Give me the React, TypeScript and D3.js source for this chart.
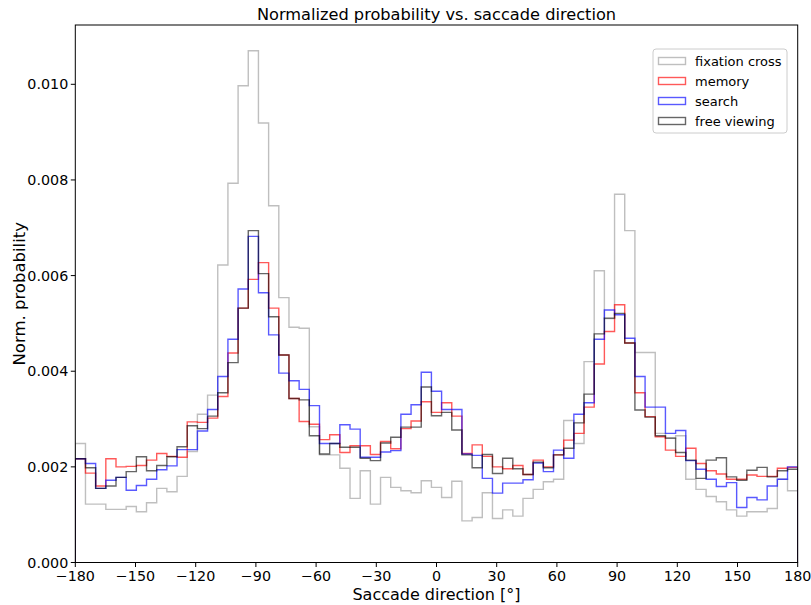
import React from "react";
import * as d3 from "d3";

// Histogram values (normalized probability), 71 bins from -180 to 180
const fixationCross = [
  0.00249, 0.00122, 0.00122, 0.00111, 0.00111, 0.00117, 0.00106, 0.00125, 0.00155, 0.00148,
  0.00180, 0.00232, 0.00310, 0.00350, 0.00622, 0.00793, 0.00997, 0.01070, 0.00919, 0.00746,
  0.00554, 0.00492, 0.00490, 0.00284, 0.00225, 0.00225, 0.00197, 0.00134, 0.00192, 0.00122,
  0.00178, 0.00157, 0.00150, 0.00146, 0.00171, 0.00157, 0.00136, 0.00170, 0.00087, 0.00094,
  0.00146, 0.00092, 0.00110, 0.00097, 0.00134, 0.00153, 0.00169, 0.00174, 0.00297, 0.00249,
  0.00420, 0.00610, 0.00510, 0.00770, 0.00694, 0.00439, 0.00439, 0.00270, 0.00260, 0.00265,
  0.00174, 0.00153, 0.00138, 0.00127, 0.00110, 0.00097, 0.00106, 0.00106, 0.00113, 0.00174,
  0.00150,
];
const memory = [
  0.00217, 0.00187, 0.00160, 0.00217, 0.00200, 0.00201, 0.00203, 0.00214, 0.00228, 0.00222,
  0.00220, 0.00294, 0.00293, 0.00302, 0.00347, 0.00438, 0.00532, 0.00592, 0.00627, 0.00532,
  0.00434, 0.00343, 0.00295, 0.00289, 0.00257, 0.00267, 0.00230, 0.00244, 0.00244, 0.00226,
  0.00253, 0.00238, 0.00280, 0.00296, 0.00336, 0.00314, 0.00334, 0.00306, 0.00228, 0.00246,
  0.00222, 0.00200, 0.00196, 0.00203, 0.00184, 0.00214, 0.00200, 0.00225, 0.00256, 0.00270,
  0.00325, 0.00415, 0.00483, 0.00539, 0.00459, 0.00355, 0.00305, 0.00263, 0.00235, 0.00222,
  0.00239, 0.00207, 0.00192, 0.00185, 0.00174, 0.00174, 0.00183, 0.00180, 0.00180, 0.00197,
  0.00199,
];
const search = [
  0.00217, 0.00207, 0.00155, 0.00172, 0.00178, 0.00151, 0.00161, 0.00174, 0.00194, 0.00202,
  0.00236, 0.00236, 0.00275, 0.00320, 0.00389, 0.00467, 0.00572, 0.00682, 0.00564, 0.00476,
  0.00396, 0.00380, 0.00362, 0.00328, 0.00249, 0.00249, 0.00288, 0.00279, 0.00220, 0.00220,
  0.00231, 0.00234, 0.00310, 0.00330, 0.00398, 0.00358, 0.00320, 0.00320, 0.00227, 0.00224,
  0.00176, 0.00145, 0.00166, 0.00166, 0.00173, 0.00208, 0.00190, 0.00235, 0.00218, 0.00310,
  0.00334, 0.00467, 0.00528, 0.00518, 0.00469, 0.00389, 0.00325, 0.00325, 0.00270, 0.00276,
  0.00213, 0.00195, 0.00174, 0.00159, 0.00167, 0.00115, 0.00136, 0.00131, 0.00160, 0.00174,
  0.00200,
];
const freeViewing = [
  0.00217, 0.00198, 0.00155, 0.00160, 0.00178, 0.00190, 0.00221, 0.00192, 0.00203, 0.00221,
  0.00242, 0.00286, 0.00280, 0.00306, 0.00355, 0.00418, 0.00532, 0.00694, 0.00604, 0.00514,
  0.00434, 0.00343, 0.00340, 0.00265, 0.00227, 0.00249, 0.00241, 0.00241, 0.00218, 0.00213,
  0.00250, 0.00262, 0.00283, 0.00283, 0.00367, 0.00307, 0.00314, 0.00277, 0.00225, 0.00198,
  0.00226, 0.00186, 0.00218, 0.00196, 0.00184, 0.00210, 0.00198, 0.00225, 0.00239, 0.00292,
  0.00352, 0.00478, 0.00511, 0.00521, 0.00459, 0.00319, 0.00304, 0.00265, 0.00260, 0.00230,
  0.00214, 0.00176, 0.00214, 0.00219, 0.00179, 0.00172, 0.00193, 0.00199, 0.00179, 0.00192,
  0.00195,
];

const seriesNames = ["fixation cross", "memory", "search", "free viewing"];
const xTicks = [-180, -150, -120, -90, -60, -30, 0, 30, 60, 90, 120, 150, 180];
const yTicks = [0, 0.002, 0.004, 0.006, 0.008, 0.01];

const W = 811;
const H = 605;
const left = 75.3;
const right = 797.7;
const top = 25;
const bottom = 562.5;
const FONT = "DejaVu Sans, sans-serif";

const styles = [
  { stroke: "#808080", opacity: 0.5 },
  { stroke: "#ff0000", opacity: 0.65 },
  { stroke: "#0000ff", opacity: 0.65 },
  { stroke: "#000000", opacity: 0.6 },
];

export default function App() {
  const x = d3.scaleLinear().domain([-180, 180]).range([left, right]);
  const y = d3.scaleLinear().domain([0, 0.01124]).range([bottom, top]);
  const nBins = fixationCross.length;
  const edges = d3.range(nBins + 1).map((i) => -180 + (i * 360) / nBins);
  const allSeries = [fixationCross, memory, search, freeViewing];

  const stepPath = (vals: number[]) => {
    const pts: [number, number][] = [[x(edges[0]), y(0)]];
    vals.forEach((v, i) => {
      pts.push([x(edges[i]), y(v)]);
      pts.push([x(edges[i + 1]), y(v)]);
    });
    pts.push([x(edges[nBins]), y(0)]);
    return d3.line()(pts) as string;
  };

  const fmtX = (v: number) => (v < 0 ? "\u2212" + Math.abs(v) : String(v));
  const fmtY = d3.format(".3f");

  const legX = 653;
  const legY = 49;
  return (
    <svg
      width={W}
      height={H}
      style={{ position: "absolute", left: 0, top: 0, background: "#fff" }}
      fontFamily={FONT}
    >
      <rect x={0} y={0} width={W} height={H} fill="#fff" />
      <defs>
        <clipPath id="plotclip">
          <rect x={left} y={top} width={right - left} height={bottom - top} />
        </clipPath>
      </defs>
      <g clipPath="url(#plotclip)">
        {allSeries.map((vals, i) => (
          <path
            key={i}
            d={stepPath(vals)}
            fill="none"
            stroke={styles[i].stroke}
            strokeOpacity={styles[i].opacity}
            strokeWidth={1.4}
          />
        ))}
      </g>
      {/* frame */}
      <rect
        x={left}
        y={top}
        width={right - left}
        height={bottom - top}
        fill="none"
        stroke="#000"
        strokeWidth={1}
      />
      {/* x ticks */}
      {xTicks.map((t) => (
        <g key={"x" + t}>
          <line x1={x(t)} x2={x(t)} y1={bottom} y2={bottom + 4.5} stroke="#000" />
          <text x={x(t)} y={bottom + 18.5} fontSize={14.3} textAnchor="middle" fill="#000">
            {fmtX(t)}
          </text>
        </g>
      ))}
      {/* y ticks */}
      {yTicks.map((t) => (
        <g key={"y" + t}>
          <line x1={left - 4.5} x2={left} y1={y(t)} y2={y(t)} stroke="#000" />
          <text
            x={left - 7}
            y={y(t)}
            dy="0.35em"
            fontSize={14.3}
            textAnchor="end"
            fill="#000"
          >
            {fmtY(t)}
          </text>
        </g>
      ))}
      {/* labels */}
      <text x={(left + right) / 2} y={599.5} fontSize={16} textAnchor="middle" fill="#000">
        Saccade direction [°]
      </text>
      <text
        transform={`translate(25, ${(top + bottom) / 2}) rotate(-90)`}
        fontSize={16.5}
        textAnchor="middle"
        fill="#000"
      >
        Norm. probability
      </text>
      <text x={(left + right) / 2} y={20} fontSize={16.2} textAnchor="middle" fill="#000">
        Normalized probability vs. saccade direction
      </text>
      {/* legend */}
      <rect
        x={legX}
        y={legY}
        width={134}
        height={84}
        rx={3}
        fill="#fff"
        fillOpacity={0.8}
        stroke="#cccccc"
        strokeWidth={1}
      />
      {seriesNames.map((name, i) => (
        <g key={name}>
          <rect
            x={legX + 5.5}
            y={legY + 8.5 + i * 20}
            width={27}
            height={7}
            fill="none"
            stroke={styles[i].stroke}
            strokeOpacity={styles[i].opacity}
            strokeWidth={1.4}
          />
          <text
            x={legX + 42}
            y={legY + 12 + i * 20}
            dy="0.35em"
            fontSize={13}
            fill="#000"
          >
            {name}
          </text>
        </g>
      ))}
    </svg>
  );
}
